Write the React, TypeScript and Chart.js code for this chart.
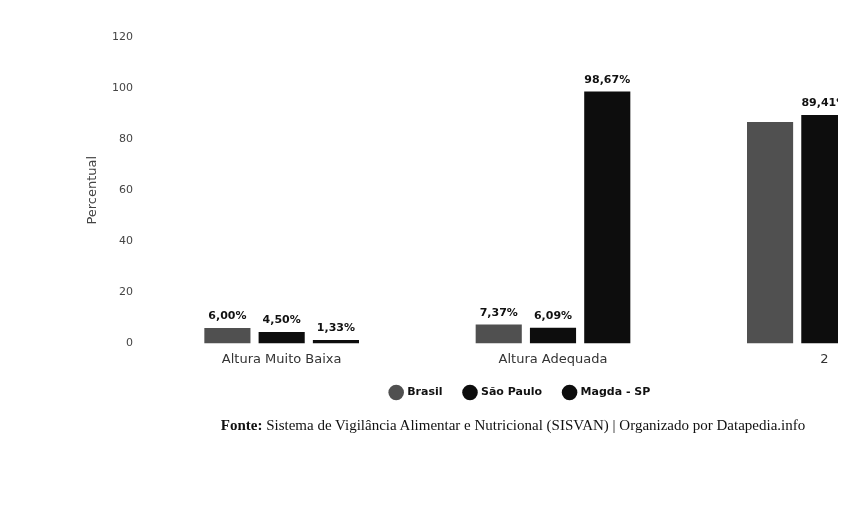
import { useEffect, useRef } from "react";
import { Chart, registerables } from "chart.js";

Chart.register(...registerables);

const categories = ["Altura Muito Baixa", "Altura Adequada", "2"];
const brasil = [6.0, 7.37, 86.7];
const saoPaulo = [4.5, 6.09, 89.41];
const magda: (number | null)[] = [1.33, 98.67, null];
const seriesNames = ["Brasil", "São Paulo", "Magda - SP"];
// value labels that are not printed in the reference: [datasetIndex, categoryIndex]
const hiddenLabels: [number, number][] = [[0, 2]];
const yMax = 120;
const yStep = 20;

const FONT = "'DejaVu Sans', sans-serif";

const valueLabels = {
  id: "valueLabels",
  afterDatasetsDraw(chart: any) {
    const ctx = chart.ctx;
    ctx.save();
    ctx.font = `bold 11px ${FONT}`;
    ctx.fillStyle = "#111";
    ctx.textAlign = "center";
    ctx.textBaseline = "bottom";
    chart.data.datasets.forEach((ds: any, i: number) => {
      const meta = chart.getDatasetMeta(i);
      meta.data.forEach((bar: any, j: number) => {
        const v = ds.data[j];
        if (v == null) return;
        if (hiddenLabels.some(([a, b]) => a === i && b === j)) return;
        ctx.fillText(v.toFixed(2).replace(".", ",") + "%", bar.x, bar.y - 6);
      });
    });
    ctx.restore();
  },
};

// pull the legend row a little closer to the axis labels
const legendLift = {
  id: "legendLift",
  afterLayout(chart: any) {
    const lg = chart.legend;
    if (lg) {
      lg.top -= 10;
      lg.bottom -= 10;
    }
  },
};

export default function App() {
  const ref = useRef<HTMLCanvasElement>(null);
  useEffect(() => {
    if (!ref.current) return;
    const chart = new Chart(ref.current, {
      type: "bar",
      data: {
        labels: categories,
        datasets: [
          { label: seriesNames[0], data: brasil, backgroundColor: "#505050" },
          { label: seriesNames[1], data: saoPaulo, backgroundColor: "#0d0d0d" },
          { label: seriesNames[2], data: magda, backgroundColor: "#0d0d0d" },
        ],
      },
      options: {
        responsive: false,
        animation: false,
        layout: { padding: { top: 29, left: 73, right: 58, bottom: 10 } },
        datasets: { bar: { categoryPercentage: 0.6, barPercentage: 0.85 } },
        scales: {
          x: {
            grid: { display: false, drawTicks: false },
            border: { display: false },
            ticks: { padding: 8, color: "#333", font: { family: FONT, size: 13 } },
          },
          y: {
            min: 0,
            max: yMax,
            grid: { display: false, drawTicks: false },
            border: { display: false },
            ticks: { stepSize: yStep, padding: 13, color: "#444", font: { family: FONT, size: 11 } },
            title: { display: true, text: "Percentual", color: "#444", font: { family: FONT, size: 13 } },
            afterFit: (s: any) => {
              s.width = 65;
            },
          },
        },
        plugins: {
          legend: {
            position: "bottom",
            labels: {
              usePointStyle: true,
              pointStyle: "circle",
              padding: 22,
              color: "#111",
              font: { family: FONT, size: 11, weight: "bold" },
            },
          },
          tooltip: { enabled: false },
        },
      },
      plugins: [valueLabels, legendLift],
    });
    return () => chart.destroy();
  }, []);

  return (
    <div style={{ position: "relative", width: 838, height: 504, overflow: "hidden" }}>
      <canvas ref={ref} width={1010} height={420} />
      <div
        style={{
          position: "absolute",
          left: 0,
          top: 409,
          width: 1010,
          textAlign: "center",
          fontFamily: "'Liberation Serif', serif",
          fontSize: 15,
          color: "#111",
          whiteSpace: "nowrap",
        }}
      >
        <b>Fonte:</b> Sistema de Vigilância Alimentar e Nutricional (SISVAN) | Organizado por Datapedia.info
      </div>
    </div>
  );
}
